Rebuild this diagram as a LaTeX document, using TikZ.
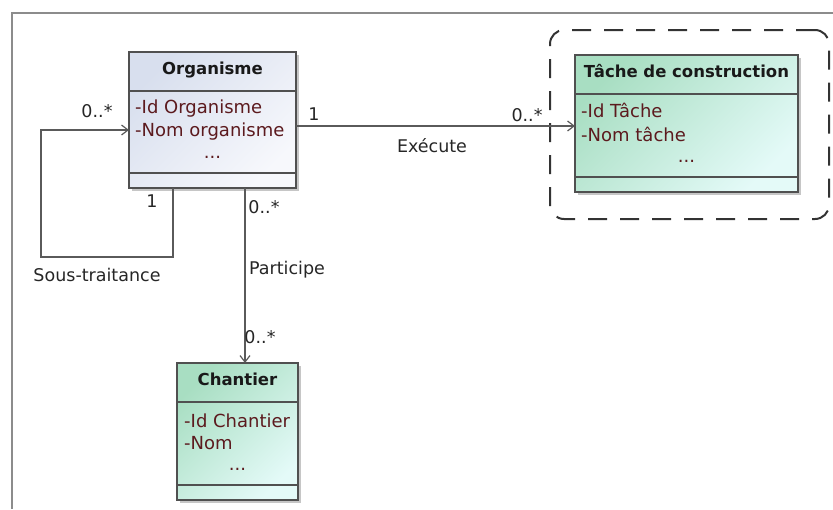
\documentclass[tikz,border=0pt]{standalone}
\usepackage{fontspec}
\setmainfont{DejaVu Sans}
\usetikzlibrary{arrows.meta,positioning,shadows,fit}

\definecolor{framegray}{HTML}{8C8C8C}
\definecolor{boxline}{HTML}{505050}
\definecolor{linkgray}{HTML}{5A5A5A}
\definecolor{attrred}{HTML}{5C1A1E}
\definecolor{blueA}{HTML}{D8DFEE}
\definecolor{blueB}{HTML}{F7F8FC}
\definecolor{greenA}{HTML}{A8DEC2}
\definecolor{greenB}{HTML}{E4FAF8}

\begin{document}
\begin{tikzpicture}[
  x=1pt, y=-1pt,
  classbox/.style={draw=boxline, line width=1.3pt, anchor=north west, inner sep=0pt, outer sep=0pt,
    drop shadow={shadow xshift=3pt, shadow yshift=-3pt, fill=black!50, opacity=0.45}},
  blueclass/.style={classbox, top color=blueA, bottom color=blueB, shading angle=45},
  greenclass/.style={classbox, top color=greenA, bottom color=greenB, shading angle=45},
  classname/.style={font=\fontsize{16.5}{20}\selectfont\bfseries, text=black!90, anchor=base, inner sep=0pt},
  attr/.style={font=\fontsize{18}{22}\selectfont, text=attrred, anchor=base west, inner sep=0pt},
  sep/.style={draw=boxline, line width=1.2pt},
  link/.style={draw=linkgray, line width=1.2pt},
  arrowlink/.style={link, -{Straight Barb[length=6.5pt,width=10pt]}},
  mult/.style={font=\fontsize{17.5}{20}\selectfont, text=black!85, anchor=base, inner sep=0pt},
  groupframe/.style={draw=black!80, line width=2pt, rounded corners=14pt, dash pattern=on 19pt off 13pt, inner sep=0pt}
]
  \useasboundingbox (0,0) rectangle (833,509);
  \draw[framegray, line width=2pt] (833,13) -- (12,13) -- (12,509);

  % classes
  \node[blueclass, minimum width=167pt, minimum height=136pt] (org) at (129,52) {};
  \node[greenclass, minimum width=223pt, minimum height=137pt] (tache) at (575,55) {};
  \node[greenclass, minimum width=121pt, minimum height=137pt] (chantier) at (177,363) {};

  \foreach \c in {org,tache,chantier} {
    \draw[sep] ([yshift=-39pt]\c.north west) -- ([yshift=-39pt]\c.north east);
    \draw[sep] ([yshift=15pt]\c.south west) -- ([yshift=15pt]\c.south east);
  }

  \node[classname] (orgname) at ([yshift=-22pt]org.north) {Organisme};
  \node[attr] (orgid) at ([xshift=6pt,yshift=-61pt]org.north west) {-Id Organisme};
  \node[attr] (orgnom) at ([yshift=-23pt]orgid.base west) {-Nom organisme};
  \node[attr, anchor=base] (orgdots) at ([yshift=-106pt]org.north) {...};

  \node[classname] (tachename) at ([yshift=-22pt]tache.north) {Tâche de construction};
  \node[attr] (tacheid) at ([xshift=6pt,yshift=-62pt]tache.north west) {-Id Tâche};
  \node[attr] (tachenom) at ([yshift=-24pt]tacheid.base west) {-Nom tâche};
  \node[attr, anchor=base] (tachedots) at ([yshift=-107pt]tache.north) {...};

  \node[classname] (chantiername) at ([yshift=-22pt]chantier.north) {Chantier};
  \node[attr] (chantierid) at ([xshift=7pt,yshift=-64pt]chantier.north west) {-Id Chantier};
  \node[attr] (chantiernom) at ([yshift=-22pt]chantierid.base west) {-Nom};
  \node[attr, anchor=base] (chantierdots) at ([yshift=-107pt]chantier.north) {...};

  % dashed group
  \node[groupframe, fit=(tache), inner xsep=28pt, inner ysep=26pt, xshift=3pt, yshift=-1pt] (grp) {};

  % associations
  \draw[arrowlink] ([yshift=-6pt]org.east) -- ([yshift=-6pt]org.east -| tache.west);
  \draw[arrowlink] ([xshift=-39.5pt]org.south) -- ++(0,69) -- ++(-132,0) |- ([yshift=-10pt]org.west);
  \draw[arrowlink] ([xshift=32.5pt]org.south) -- ([xshift=32.5pt]org.south |- chantier.north);

  \node[mult] (m1) at (314,120) {1};
  \node[mult] (m2) at (527,121) {0..*};
  \node[mult] (execute) at (432,152) {Exécute};
  \node[mult] (m3) at (97,117) {0..*};
  \node[mult] (m4) at (152,207) {1};
  \node[mult] (soustraitance) at (97,281) {Sous-traitance};
  \node[mult] (m5) at (264,213) {0..*};
  \node[mult] (participe) at (287,274) {Participe};
  \node[mult] (m6) at (260,343) {0..*};
\end{tikzpicture}
\end{document}
